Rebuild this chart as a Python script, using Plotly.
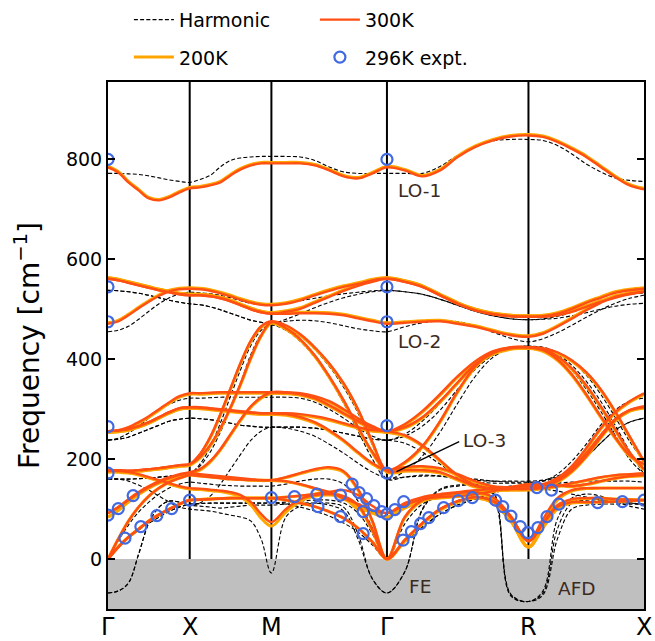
import plotly.graph_objects as go

# ---- k-path sample positions (cumulative path length) ----
K = [0.0, 0.0625, 0.125, 0.1875, 0.25, 0.3125, 0.375, 0.4375, 0.5,
     0.5625, 0.625, 0.6875, 0.75, 0.8125, 0.875, 0.9375, 1.0,
     1.0884, 1.1768, 1.2652, 1.3536, 1.4419, 1.5303, 1.6187, 1.7071,
     1.8154, 1.9236, 2.0319, 2.1401, 2.2484, 2.3566, 2.4649, 2.5731,
     2.6615, 2.7499, 2.8383, 2.9266, 3.0150, 3.1034, 3.1918, 3.2802]

HSYM_POS = [0.0, 0.5, 1.0, 1.7071, 2.5731, 3.2802]
HSYM_LABELS = ["Γ", "X", "M", "Γ", "R", "X"]

# ---- 300K bands (cm^-1) ----
T300_b01 = [0, 24, 44, 60, 76, 89, 100, 110, 118, 119, 120, 121, 122, 122, 122, 122, 122,
            118, 112, 105, 95, 82, 62, 34, 0, 38, 72, 100, 116, 124, 116, 84, 36,
            70, 104, 114, 114, 114, 115, 116, 118]
T300_b02 = [0, 24, 44, 60, 76, 89, 100, 110, 118, 119, 120, 121, 122, 122, 122, 122, 122,
            124, 127, 130, 134, 138, 128, 106, 92, 112, 124, 130, 134, 138, 140, 140, 140,
            142, 146, 152, 158, 164, 168, 170, 172]
T300_b03 = [0, 40, 76, 104, 126, 142, 154, 162, 168, 166, 164, 162, 160, 159, 158, 158, 158,
            164, 172, 180, 184, 176, 140, 76, 0, 84, 118, 124, 126, 130, 136, 144, 150,
            150, 148, 146, 150, 156, 162, 166, 168]
T300_b04 = [92, 104, 120, 134, 146, 156, 164, 170, 174, 180, 196, 220, 250, 280, 306, 324, 334,
            334, 332, 326, 316, 300, 282, 266, 256, 270, 296, 330, 366, 396, 416, 424, 424,
            420, 406, 382, 348, 306, 260, 214, 180]
T300_b05 = [92, 103, 118, 132, 144, 154, 162, 168, 172, 170, 168, 166, 164, 162, 160, 158, 158,
            156, 150, 142, 134, 122, 110, 98, 92, 108, 120, 128, 132, 134, 124, 86, 36,
            80, 122, 138, 142, 142, 142, 142, 142]
T300_b06 = [176, 176, 174, 170, 164, 158, 152, 146, 142, 141, 139, 137, 134, 128, 114, 90, 74,
            100, 120, 128, 130, 126, 108, 58, 0, 38, 72, 100, 116, 124, 116, 84, 36,
            72, 108, 120, 122, 122, 120, 119, 118]
T300_b07 = [178, 178, 177, 178, 180, 182, 185, 188, 190, 204, 228, 262, 304, 352, 404, 448, 474,
            462, 440, 408, 366, 318, 264, 214, 178, 194, 226, 276, 336, 386, 414, 424, 424,
            418, 400, 370, 330, 286, 244, 208, 190]
T300_b08 = [178, 178, 177, 178, 180, 182, 185, 188, 190, 210, 244, 290, 342, 394, 438, 466, 476,
            468, 450, 424, 392, 352, 300, 234, 176, 178, 178, 174, 160, 146, 142, 144, 148,
            150, 162, 186, 222, 262, 294, 316, 332]
T300_b09 = [256, 258, 264, 274, 286, 300, 314, 326, 332, 332, 333, 334, 334, 334, 334, 334, 334,
            333, 330, 322, 308, 292, 276, 262, 256, 264, 284, 316, 354, 390, 412, 422, 424,
            422, 414, 398, 374, 340, 296, 246, 196]
T300_b10 = [256, 257, 260, 266, 274, 284, 294, 302, 304, 304, 302, 300, 298, 296, 294, 292, 292,
            290, 284, 274, 258, 238, 214, 192, 178, 184, 186, 182, 170, 156, 146, 144, 146,
            148, 156, 176, 206, 244, 278, 298, 306]
T300_b11 = [256, 257, 260, 266, 274, 284, 294, 302, 304, 303, 301, 299, 297, 295, 293, 292, 292,
            292, 290, 286, 280, 272, 264, 258, 256, 248, 228, 198, 168, 148, 140, 140, 142,
            146, 158, 180, 212, 248, 280, 298, 304]
T300_b12 = [471, 476, 488, 502, 515, 527, 536, 540, 541, 540, 537, 532, 526, 519, 513, 509, 508,
            511, 518, 528, 537, 545, 551, 558, 561, 555, 545, 528, 511, 498, 490, 486, 485,
            486, 491, 501, 513, 523, 533, 538, 541]
T300_b13 = [561, 558, 553, 548, 543, 538, 534, 530, 528, 528, 526, 522, 516, 508, 500, 494, 491,
            491, 492, 492, 491, 488, 482, 476, 471, 473, 475, 476, 471, 465, 456, 448, 445,
            451, 465, 481, 498, 513, 525, 531, 535]
T300_b14 = [561, 558, 553, 548, 543, 538, 534, 530, 528, 528, 526, 522, 516, 508, 500, 494, 491,
            495, 501, 513, 525, 537, 547, 555, 561, 555, 545, 528, 511, 498, 490, 486, 485,
            485, 488, 495, 505, 515, 523, 530, 535]
T300_b15 = [784, 774, 754, 738, 722, 718, 724, 734, 742, 744, 748, 754, 768, 780, 788, 792, 792,
            792, 792, 788, 778, 766, 762, 772, 784, 778, 766, 778, 805, 825, 838, 846, 848,
            845, 835, 821, 805, 785, 765, 748, 740]

# ---- 200K bands (cm^-1) ----
T200_b01 = [0, 24, 44, 60, 76, 89, 100, 110, 118, 119, 120, 121, 122, 122, 122, 122, 122,
            118, 112, 105, 95, 82, 62, 34, 0, 36, 70, 98, 114, 122, 112, 76, 24,
            62, 100, 112, 113, 114, 115, 116, 118]
T200_b02 = [0, 24, 44, 60, 76, 89, 100, 110, 118, 119, 120, 121, 122, 122, 122, 122, 122,
            124, 126, 130, 134, 124, 100, 96, 84, 106, 120, 128, 132, 136, 138, 138, 138,
            140, 145, 151, 157, 163, 167, 169, 171]
T200_b03 = [0, 40, 76, 104, 126, 142, 154, 162, 168, 166, 164, 162, 160, 159, 158, 158, 158,
            163, 171, 178, 182, 174, 138, 74, 0, 82, 116, 122, 125, 129, 135, 143, 149,
            149, 147, 145, 149, 155, 161, 165, 167]
T200_b04 = [84, 98, 116, 131, 144, 154, 162, 168, 172, 178, 194, 218, 248, 278, 304, 322, 332,
            332, 330, 324, 314, 298, 280, 264, 254, 268, 294, 328, 364, 394, 414, 422, 422,
            418, 404, 380, 346, 304, 258, 212, 178]
T200_b05 = [84, 97, 114, 129, 142, 152, 160, 166, 170, 168, 166, 164, 162, 160, 158, 157, 157,
            155, 149, 141, 132, 120, 106, 92, 84, 102, 116, 126, 130, 132, 120, 78, 24,
            72, 118, 136, 141, 142, 142, 142, 142]
T200_b06 = [174, 174, 172, 168, 162, 156, 150, 144, 140, 139, 137, 135, 131, 124, 108, 82, 66,
            94, 116, 126, 128, 124, 106, 56, 0, 36, 70, 98, 114, 122, 112, 76, 24,
            64, 104, 118, 121, 122, 120, 119, 118]
T200_b07 = [176, 176, 175, 176, 178, 180, 183, 186, 188, 202, 226, 260, 302, 350, 402, 446, 472,
            460, 438, 406, 364, 316, 262, 212, 176, 192, 224, 274, 334, 384, 412, 422, 422,
            416, 398, 368, 328, 284, 242, 206, 188]
T200_b08 = [176, 176, 175, 176, 178, 180, 183, 186, 188, 208, 242, 288, 340, 392, 436, 464, 474,
            466, 448, 422, 390, 350, 298, 232, 174, 176, 176, 172, 158, 144, 140, 142, 146,
            148, 160, 184, 220, 260, 292, 314, 330]
T200_b09 = [254, 256, 262, 272, 284, 298, 312, 324, 330, 330, 331, 332, 332, 332, 332, 332, 332,
            331, 328, 320, 306, 290, 274, 260, 254, 262, 282, 314, 352, 388, 410, 420, 422,
            420, 412, 396, 372, 338, 294, 244, 194]
T200_b10 = [254, 255, 258, 264, 272, 282, 292, 300, 302, 302, 300, 298, 296, 294, 292, 290, 290,
            288, 282, 272, 256, 236, 212, 190, 176, 182, 184, 180, 168, 154, 144, 142, 144,
            146, 154, 174, 204, 242, 276, 296, 304]
T200_b11 = [254, 255, 258, 264, 272, 282, 292, 300, 302, 301, 299, 297, 295, 293, 291, 290, 290,
            290, 288, 284, 278, 270, 262, 256, 254, 246, 226, 196, 166, 146, 138, 138, 140,
            144, 156, 178, 210, 246, 278, 296, 302]
T200_b12 = [473, 478, 490, 504, 517, 529, 538, 542, 543, 542, 539, 534, 528, 521, 515, 511, 510,
            513, 520, 530, 539, 547, 553, 560, 563, 557, 547, 530, 513, 500, 492, 488, 487,
            488, 493, 503, 515, 525, 535, 540, 543]
T200_b13 = [563, 560, 555, 550, 545, 540, 536, 532, 530, 530, 528, 524, 518, 510, 502, 496, 493,
            493, 494, 494, 493, 490, 484, 478, 473, 475, 477, 478, 473, 467, 458, 450, 447,
            453, 467, 483, 500, 515, 527, 533, 537]
T200_b14 = [563, 560, 555, 550, 545, 540, 536, 532, 530, 530, 528, 524, 518, 510, 502, 496, 493,
            497, 503, 515, 527, 539, 549, 557, 563, 557, 547, 530, 513, 500, 492, 488, 487,
            487, 490, 497, 507, 517, 525, 532, 537]
T200_b15 = [786, 776, 756, 740, 724, 720, 726, 736, 744, 746, 750, 756, 770, 782, 790, 794, 794,
            794, 794, 790, 780, 768, 764, 774, 786, 780, 768, 780, 807, 827, 840, 848, 850,
            847, 837, 823, 807, 787, 767, 750, 742]

# ---- harmonic bands (cm^-1, imaginary shown negative) ----
H_b01 = [0, 22, 42, 58, 72, 84, 96, 104, 110, 111, 112, 112, 112, 112, 112, 112, 112,
         110, 104, 96, 86, 72, 54, 28, 0, 34, 64, 90, 108, 120, 120, -74, -85,
         -72, 40, 100, 108, 110, 110, 110, 110]
H_b02 = [0, 22, 42, 58, 72, 84, 96, 104, 110, 111, 112, 112, 112, 112, 112, 112, 112,
         114, 116, 118, 118, 112, 92, 50, 0, 34, 64, 90, 108, 120, 132, 140, 142,
         140, 136, 130, 124, 118, 114, 112, 110]
H_b03 = [0, 36, 68, 94, 114, 130, 142, 150, 154, 152, 150, 148, 147, 146, 146, 146, 146,
         150, 156, 160, 160, 150, 116, 62, 0, 70, 110, 124, 132, 138, 142, 146, 148,
         150, 152, 154, 156, 156, 156, 156, 154]
H_b04 = [-68, -64, -48, 10, 72, 104, 116, 114, 108, 106, 104, 102, 104, 106, 108, 108, 108,
         110, 112, 112, 108, 96, 40, -40, -68, -26, 100, 140, 148, 150, 136, -70, -85,
         -68, 60, 112, 118, 118, 116, 113, 108]
H_b05 = [-68, -64, -48, 10, 72, 104, 116, 114, 108, 112, 126, 150, 180, 210, 238, 256, 264,
         262, 256, 246, 230, 212, 192, 174, 162, 164, 166, 166, 164, 160, 156, 154, 154,
         156, 164, 180, 204, 232, 258, 274, 282]
H_b06 = [162, 160, 156, 148, 138, 126, 114, 104, 100, 98, 96, 92, 88, 84, 76, 40, -28,
         84, 106, 112, 112, 104, 50, -40, -68, -26, 98, 138, 146, 148, 132, -72, -85,
         -64, 80, 122, 130, 126, 116, 106, 100]
H_b07 = [160, 160, 160, 161, 162, 164, 166, 168, 170, 186, 214, 254, 302, 354, 410, 450, 468,
         458, 436, 404, 362, 312, 256, 200, 160, 176, 206, 254, 312, 366, 404, 422, 426,
         420, 404, 378, 340, 296, 248, 200, 170]
H_b08 = [160, 160, 160, 161, 162, 164, 166, 168, 170, 190, 224, 272, 326, 380, 428, 458, 470,
         462, 446, 420, 386, 344, 292, 228, 160, 164, 168, 166, 160, 154, 152, 152, 152,
         156, 170, 196, 230, 268, 298, 316, 322]
H_b09 = [238, 242, 252, 266, 282, 298, 310, 318, 322, 322, 323, 324, 324, 324, 324, 324, 324,
         324, 322, 314, 300, 282, 262, 246, 238, 250, 276, 312, 352, 388, 410, 422, 426,
         422, 410, 388, 356, 316, 268, 216, 170]
H_b10 = [238, 240, 244, 252, 260, 268, 276, 280, 282, 281, 279, 276, 272, 268, 266, 264, 264,
         264, 264, 262, 258, 252, 246, 240, 238, 246, 266, 298, 340, 380, 408, 422, 426,
         424, 414, 396, 368, 330, 284, 236, 196]
H_b11 = [238, 240, 244, 252, 260, 268, 276, 280, 282, 281, 279, 276, 272, 268, 266, 264, 264,
         264, 264, 262, 258, 252, 246, 240, 238, 232, 214, 190, 168, 158, 156, 156, 156,
         158, 166, 182, 204, 232, 258, 274, 282]
H_b12 = [455, 458, 466, 480, 496, 511, 523, 531, 534, 533, 531, 528, 523, 517, 512, 509, 508,
         512, 517, 522, 527, 531, 534, 537, 538, 535, 530, 520, 508, 496, 487, 481, 479,
         481, 486, 494, 505, 515, 524, 530, 533]
H_b13 = [538, 537, 535, 532, 528, 523, 518, 514, 511, 509, 505, 499, 492, 485, 478, 474, 471,
         476, 478, 477, 473, 467, 461, 457, 455, 465, 473, 477, 475, 467, 454, 442, 435,
         441, 453, 468, 484, 499, 512, 522, 528]
H_b14 = [538, 537, 535, 532, 528, 523, 518, 514, 511, 509, 505, 499, 492, 485, 478, 474, 471,
         480, 491, 503, 514, 523, 530, 535, 538, 535, 530, 520, 508, 496, 487, 481, 479,
         480, 482, 487, 493, 500, 506, 510, 512]
H_b15 = [772, 772, 771, 770, 767, 763, 759, 756, 754, 760, 768, 785, 798, 803, 805, 806, 806,
         806, 805, 798, 785, 775, 772, 772, 772, 772, 772, 786, 808, 825, 837, 840, 840,
         838, 828, 811, 791, 775, 763, 758, 756]

# ---- experiment (296 K) ----
EXP_K = [0, 0, 0, 0, 0, 0, 0.063, 0.154,
         0.104, 0.201, 0.299, 0.390, 0.5,
         1.0, 1.1414, 1.2786, 1.2848, 1.4224, 1.4224, 1.4937, 1.5368, 1.5823, 1.6272,
         1.5614, 1.5614, 1.6745,
         1.7071, 1.7071, 1.7071, 1.7071, 1.7071, 1.7071,
         1.7555, 1.8100, 1.8058, 1.8567, 1.9130, 1.9633, 2.0541, 2.1431, 2.2297,
         2.3714, 2.4156, 2.4659, 2.5228, 2.5689,
         2.6308, 2.6246, 2.7139, 2.6866, 2.7592, 2.9968, 3.1481, 3.2802]
EXP_F = [800, 545, 475, 265, 172, 88, 101, 127,
         42, 65, 87, 101, 118,
         123, 125, 130, 105, 128, 85, 150, 133, 121, 107,
         95, 51, 95,
         800, 545, 475, 267, 172, 90,
         99, 115, 38, 55, 71, 83, 103, 117, 123,
         118, 105, 86, 65, 53,
         63, 143, 138, 85, 110, 113, 115, 118]

HARM = [H_b01, H_b02, H_b03, H_b04, H_b05, H_b06, H_b07, H_b08, H_b09, H_b10,
        H_b11, H_b12, H_b13, H_b14, H_b15]
T200 = [T200_b01, T200_b02, T200_b03, T200_b04, T200_b05, T200_b06, T200_b07, T200_b08,
        T200_b09, T200_b10, T200_b11, T200_b12, T200_b13, T200_b14, T200_b15]
T300 = [T300_b01, T300_b02, T300_b03, T300_b04, T300_b05, T300_b06, T300_b07, T300_b08,
        T300_b09, T300_b10, T300_b11, T300_b12, T300_b13, T300_b14, T300_b15]

C300 = "#ff4f12"
C200 = "#ffa500"
CEXP = "#4169e1"
FONT = "DejaVu Sans"

fig = go.Figure()

for i, b in enumerate(HARM):
    fig.add_trace(go.Scatter(x=K, y=b, mode="lines",
                             line=dict(color="black", width=1.1, dash="4px,2.2px",
                                       shape="spline", smoothing=1.0),
                             name="Harmonic", legendgroup="h", legend="legend",
                             showlegend=(i == 0), hoverinfo="skip"))
for i, b in enumerate(T200):
    fig.add_trace(go.Scatter(x=K, y=b, mode="lines",
                             line=dict(color=C200, width=3.0, shape="spline", smoothing=1.0),
                             name="200K", legendgroup="t2", legend="legend2",
                             showlegend=(i == 0), hoverinfo="skip"))
for i, b in enumerate(T300):
    fig.add_trace(go.Scatter(x=K, y=b, mode="lines",
                             line=dict(color=C300, width=2.4, shape="spline", smoothing=1.0),
                             name="300K", legendgroup="t3", legend="legend",
                             showlegend=(i == 0), hoverinfo="skip"))
fig.add_trace(go.Scatter(x=EXP_K, y=EXP_F, mode="markers",
                         marker=dict(symbol="circle-open", size=11, color=CEXP,
                                     line=dict(width=2.2, color=CEXP)),
                         name="296K expt.", legend="legend2", hoverinfo="skip"))

shapes = [dict(type="rect", xref="x", yref="y", x0=0, x1=3.2802, y0=-100, y1=0,
               fillcolor="#bfbfbf", line=dict(width=0), layer="below")]
for p in HSYM_POS[1:-1]:
    shapes.append(dict(type="line", xref="x", yref="paper", x0=p, x1=p, y0=0, y1=1,
                       line=dict(color="black", width=2), layer="below"))
# LO-3 pointer
shapes.append(dict(type="line", xref="x", yref="y", x0=1.7658, y0=175, x1=2.1492, y1=235,
                   line=dict(color="black", width=1.4)))

TXT = "#3b2a1e"
AFONT = dict(family=FONT, size=18.5, color=TXT)
annotations = [
    dict(x=1.907, y=738, text="LO-1", showarrow=False, xanchor="center", yanchor="middle", font=AFONT),
    dict(x=1.907, y=436, text="LO-2", showarrow=False, xanchor="center", yanchor="middle", font=AFONT),
    dict(x=2.158, y=237, text="LO-3", showarrow=False, xanchor="left", yanchor="middle", font=AFONT),
    dict(x=1.907, y=-54, text="FE", showarrow=False, xanchor="center", yanchor="middle", font=AFONT),
    dict(x=2.871, y=-58, text="AFD", showarrow=False, xanchor="center", yanchor="middle", font=AFONT),
]
# high-symmetry point labels below the axis
for p, lab in zip(HSYM_POS, HSYM_LABELS):
    annotations.append(dict(x=p, xref="x", y=-0.0345, yref="paper", text=lab, showarrow=False,
                            xanchor="center", yanchor="middle",
                            font=dict(family=FONT, size=24, color="black")))

leg_common = dict(orientation="h", xanchor="left", yanchor="middle",
                  font=dict(family=FONT, size=19, color="black"),
                  bgcolor="rgba(0,0,0,0)", entrywidth=131, itemwidth=40,
                  traceorder="normal")

fig.update_layout(
    width=655, height=641,
    margin=dict(l=108, r=11, t=82, b=32, pad=0, autoexpand=False),
    paper_bgcolor="white", plot_bgcolor="white",
    font=dict(family=FONT, color="black"),
    shapes=shapes, annotations=annotations,
    legend=dict(x=0.039, y=1.118, **leg_common),
    legend2=dict(x=0.039, y=1.047, **leg_common),
    xaxis=dict(range=[0, 3.2802], tickvals=HSYM_POS, showticklabels=False,
               showgrid=False, zeroline=False, showline=True, linecolor="black",
               linewidth=2, mirror=True, ticks="", automargin=False),
    yaxis=dict(range=[-100, 955], tickvals=[0, 200, 400, 600, 800],
               showgrid=False, zeroline=False, showline=True, linecolor="black",
               linewidth=2, mirror="ticks", ticks="inside", ticklen=7, tickwidth=1.5,
               tickcolor="black", tickfont=dict(size=19, family=FONT), automargin=False,
               title=dict(text="Frequency [cm<sup>−1</sup>]", font=dict(size=28, family=FONT),
                          standoff=18)),
)

fig.write_html("out.html")
